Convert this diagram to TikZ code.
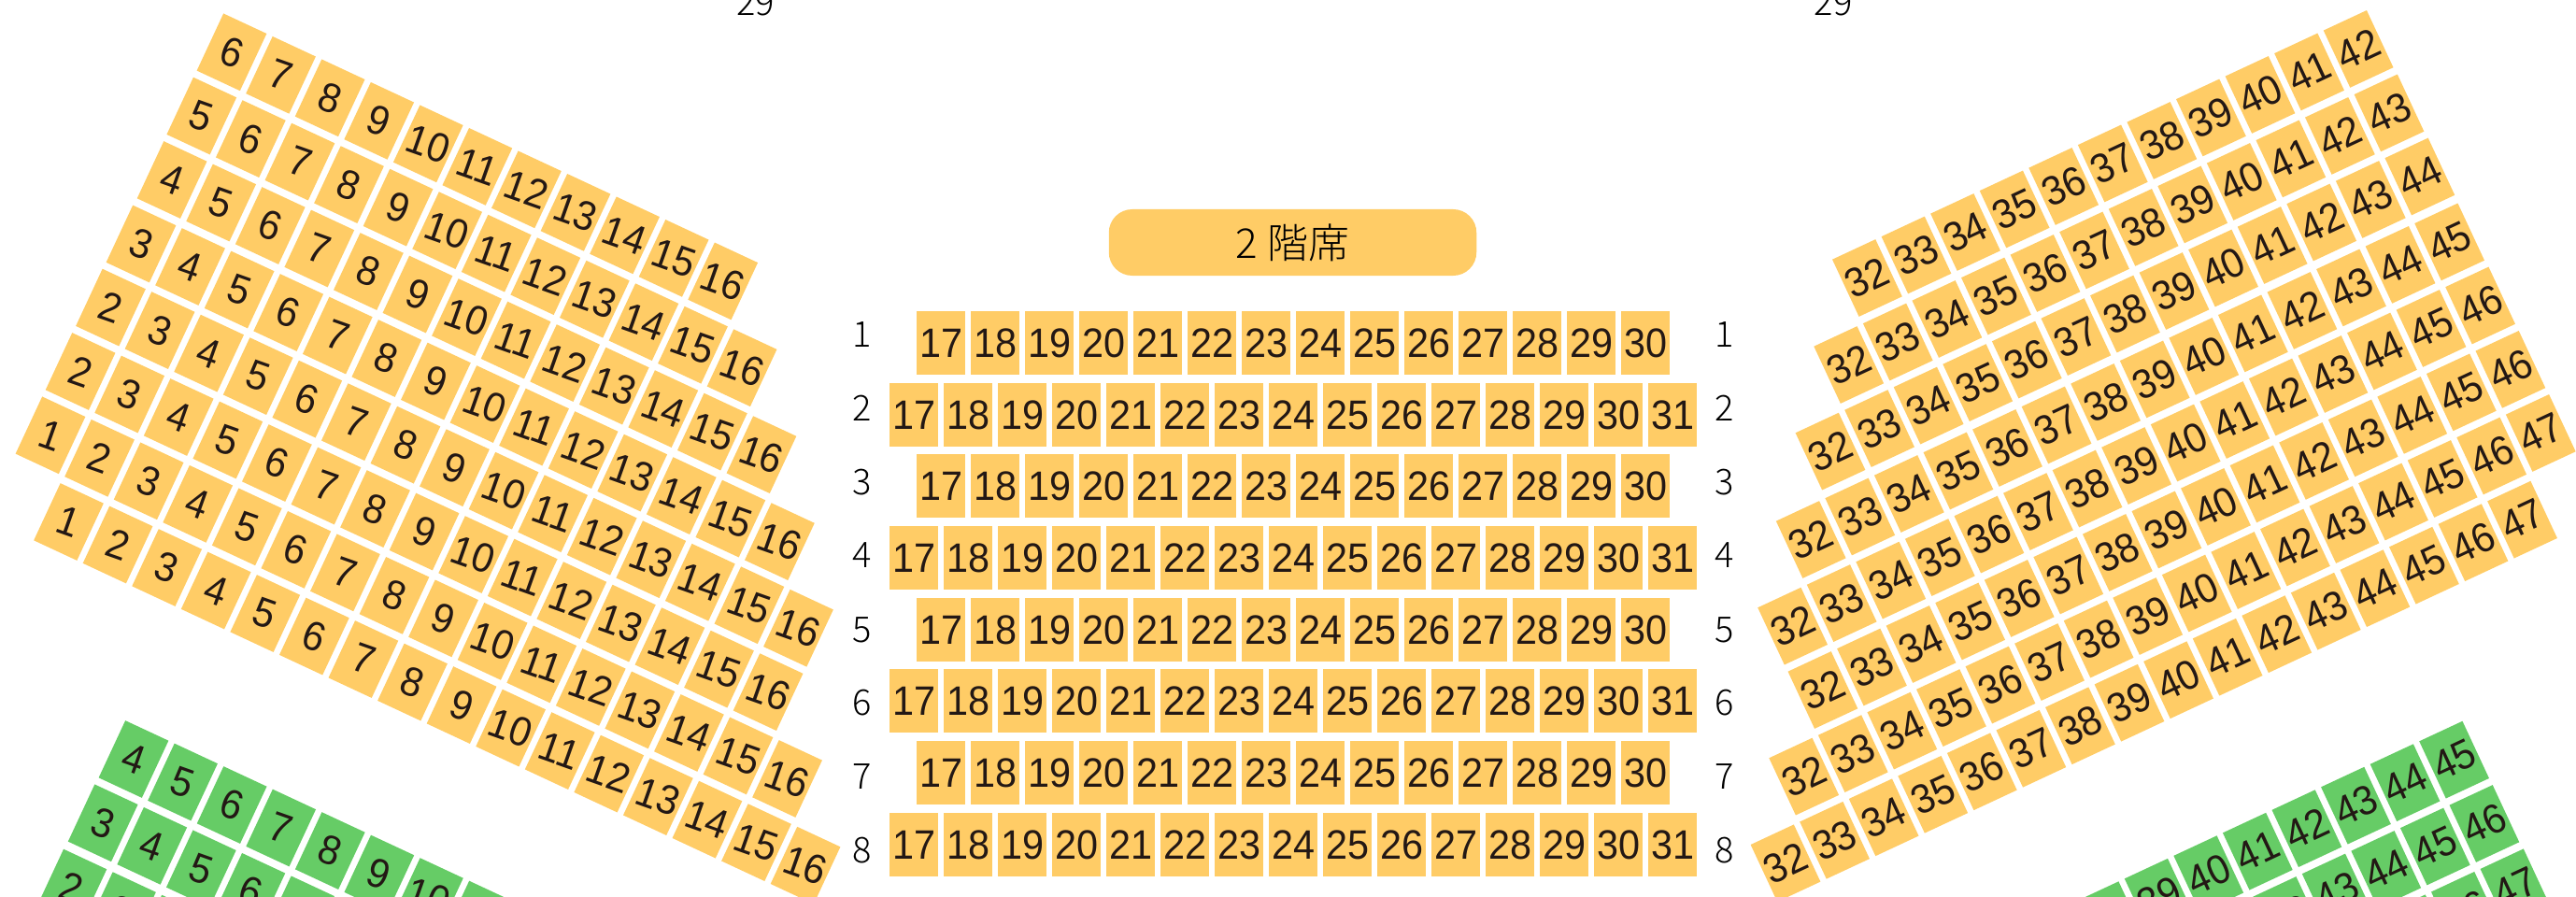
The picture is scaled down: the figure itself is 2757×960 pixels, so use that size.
\documentclass[tikz,border=0pt]{standalone}
\usepackage{fontspec}
\setmainfont[FakeStretch=0.94]{Liberation Sans}
\newfontfamily\jpfont[UprightFont=* Light]{Noto Sans CJK JP}
\definecolor{seatorange}{HTML}{FFCC66}
\definecolor{seatgreen}{HTML}{66CC66}
\definecolor{seatink}{HTML}{231815}
\tikzset{
  seatbox/.style={minimum width=52pt,minimum height=68pt,inner sep=0pt,text=seatink,
    font=\fontsize{44}{44}\selectfont},
  turned seat/.style={seatbox,minimum width=51pt,minimum height=67.5pt},
  orange seat/.style={fill=seatorange},
  green seat/.style={fill=seatgreen},
  rowlabel/.style={inner sep=0pt,anchor=base,text=black,font=\jpfont\fontsize{38}{38}\selectfont},
  pill/.style={fill=seatorange,rounded corners=25pt,minimum width=393.5pt,minimum height=71pt,
    inner sep=0pt,text=black,font=\jpfont\fontsize{44}{44}\selectfont}
}
% #1 name, #2 style, #3 x of top corner of first seat, #4 y, #5 first number, #6 last number
\newcommand\seatsdown[6]{%
  \foreach \n in {#5,...,#6}{%
    \pgfmathsetmacro\cx{#3+9.2+(\n-#5)*52.57}%
    \pgfmathsetmacro\cy{#4+41.8+(\n-#5)*24.51}%
    \node[turned seat,#2,rotate=-25] (#1-\n) at (\cx,\cy) {\rotatebox{5.5}{\n}};
  }}
\newcommand\seatsup[6]{%
  \foreach \n in {#5,...,#6}{%
    \pgfmathsetmacro\cx{#3+37.9+(\n-#5)*52.57}%
    \pgfmathsetmacro\cy{#4+19.8-(\n-#5)*24.51}%
    \node[turned seat,#2,rotate=25] (#1-\n) at (\cx,\cy) {\n};
  }}
\newcommand\seatsflat[5]{%
  \foreach \n in {#4,...,#5}{%
    \pgfmathsetmacro\cx{#2+26+(\n-#4)*58}%
    \node[seatbox,orange seat] (#1-\n) at (\cx,#3+34) {\n};
  }}
\begin{document}
\begin{tikzpicture}[x=1pt,y=-1pt]
\useasboundingbox (0,0) rectangle (2757,960);
\clip (0,0) rectangle (2757,960);
% left upper block
\seatsdown{la}{orange seat}{238.8}{14}{6}{16}
\seatsdown{lb}{orange seat}{206.6}{82.3}{5}{16}
\seatsdown{lc}{orange seat}{174.9}{150.7}{4}{16}
\seatsdown{ld}{orange seat}{141.8}{219.2}{3}{16}
\seatsdown{le}{orange seat}{109.3}{287.3}{2}{16}
\seatsdown{lf}{orange seat}{76.9}{355.7}{2}{16}
\seatsdown{lg}{orange seat}{44.8}{424}{1}{16}
\seatsdown{lh}{orange seat}{64.3}{516.7}{1}{16}
% left green block
\seatsdown{lp}{green seat}{133.8}{770.7}{4}{11}
\seatsdown{lq}{green seat}{101}{839}{3}{7}
\seatsdown{lr}{green seat}{67.7}{908.3}{2}{4}
% centre block
\seatsflat{c1}{981}{333}{17}{30}
\seatsflat{c2}{952}{410}{17}{31}
\seatsflat{c3}{981}{486}{17}{30}
\seatsflat{c4}{952}{563}{17}{31}
\seatsflat{c5}{981}{640}{17}{30}
\seatsflat{c6}{952}{716}{17}{31}
\seatsflat{c7}{981}{793}{17}{30}
\seatsflat{c8}{952}{870}{17}{31}
% right upper block
\seatsup{ra}{orange seat}{1960.5}{277.7}{32}{42}
\seatsup{rb}{orange seat}{1940.8}{370.7}{32}{43}
\seatsup{rc}{orange seat}{1921.1}{463.3}{32}{44}
\seatsup{rd}{orange seat}{1900.3}{557.7}{32}{45}
\seatsup{re}{orange seat}{1880.7}{650.3}{32}{46}
\seatsup{rf}{orange seat}{1913}{718.7}{32}{46}
\seatsup{rg}{orange seat}{1892.8}{811.3}{32}{47}
\seatsup{rh}{orange seat}{1873.1}{904}{32}{47}
% right green block
\seatsup{rp}{green seat}{2220.7}{964.9}{38}{45}
\seatsup{rq}{green seat}{2410.7}{959.7}{42}{46}
\seatsup{rr}{green seat}{2548.9}{979}{45}{47}
% title
\node[pill] (title) at (1383.5,259.5) {2 階席};
% row labels
\foreach \r/\b in {1/371.7,2/450.7,3/529.3,4/607.7,5/687.3,6/765,7/844,8/923.3}{
  \node[rowlabel] (rowl\r) at (922.7,\b) {\r};
  \node[rowlabel] (rowr\r) at (1846,\b) {\r};
}
\node[rowlabel] (upl) at (808.5,16.7) {29};
\node[rowlabel] (upr) at (1962,16.7) {29};
\end{tikzpicture}
\end{document}
